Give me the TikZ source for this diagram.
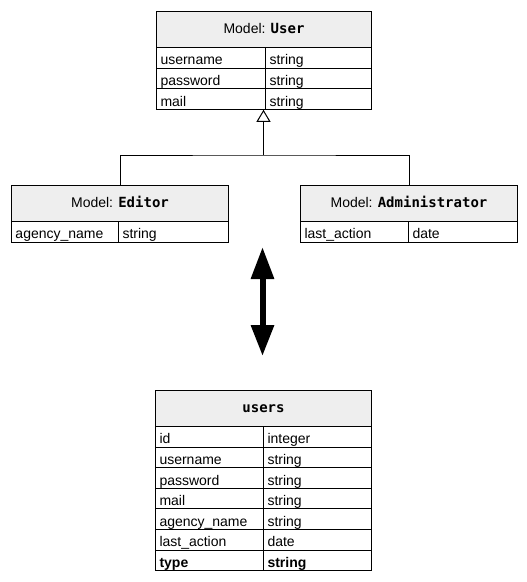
\documentclass[tikz,border=0pt]{standalone}
\usepackage{fontspec}
\setmainfont{Liberation Sans}
\newfontfamily\codefont{DejaVu Sans Mono}
\usetikzlibrary{arrows.meta}
\definecolor{hdrgray}{HTML}{EEEEEE}
\tikzset{
  hdr/.style={draw, line width=1pt, fill=hdrgray, anchor=north west, inner sep=0pt,
    minimum height=36pt, text height=8.6pt, text depth=0pt, font=\fontsize{14}{16}\selectfont},
  cell/.style={draw, line width=1pt, anchor=north west, inner xsep=4pt, inner ysep=0pt,
    minimum height=20.6pt, text height=17.3pt, text depth=3.3pt, align=left,
    font=\fontsize{14}{16}\selectfont},
  inh/.style={line width=1pt, -{Triangle[open, length=12pt, width=14pt, fill=white]}},
  link/.style={line width=1pt},
  dbl/.style={line width=6pt, {Triangle[length=32pt, width=22pt]}-{Triangle[length=31pt, width=22pt]}}
}
\newcommand{\code}[1]{{\codefont\bfseries #1}}
\begin{document}
\begin{tikzpicture}[x=1pt, y=-1pt]
\useasboundingbox (0,0) rectangle (527,582);

% User
\node[hdr, minimum width=215pt] (uh) at (156,11) {Model: \code{User}};
\node[cell, text width=101pt] (u1l) at (156,47) {username};
\node[cell, text width=98pt] (u1r) at (265,47) {string};
\node[cell, text width=101pt] (u2l) at (156,67.6) {password};
\node[cell, text width=98pt] (u2r) at (265,67.6) {string};
\node[cell, text width=101pt] (u3l) at (156,88.2) {mail};
\node[cell, text width=98pt] (u3r) at (265,88.2) {string};

% Editor
\node[hdr, minimum width=217pt] (eh) at (11,185) {Model: \code{Editor}};
\node[cell, text width=99pt] (e1l) at (11,221) {agency\_name};
\node[cell, text width=102pt] (e1r) at (118,221) {string};

% Administrator
\node[hdr, minimum width=217pt] (ah) at (300,185) {Model: \code{Administrator}};
\node[cell, text width=100pt] (a1l) at (300,221) {last\_action};
\node[cell, text width=101pt] (a1r) at (408,221) {date};

% users table
\node[hdr, minimum width=216pt] (th) at (155,390) {\code{users}};
\node[cell, text width=100pt] (t1l) at (155,426) {id};
\node[cell, text width=100pt] (t1r) at (263,426) {integer};
\node[cell, text width=100pt] (t2l) at (155,446.6) {username};
\node[cell, text width=100pt] (t2r) at (263,446.6) {string};
\node[cell, text width=100pt] (t3l) at (155,467.2) {password};
\node[cell, text width=100pt] (t3r) at (263,467.2) {string};
\node[cell, text width=100pt] (t4l) at (155,487.8) {mail};
\node[cell, text width=100pt] (t4r) at (263,487.8) {string};
\node[cell, text width=100pt] (t5l) at (155,508.4) {agency\_name};
\node[cell, text width=100pt] (t5r) at (263,508.4) {string};
\node[cell, text width=100pt] (t6l) at (155,529) {last\_action};
\node[cell, text width=100pt] (t6r) at (263,529) {date};
\node[cell, text width=100pt] (t7l) at (155,549.6) {\textbf{type}};
\node[cell, text width=100pt] (t7r) at (263,549.6) {\textbf{string}};

% inheritance
\coordinate (j) at (263.5,155);
\draw[link] (eh.north) |- (j) -| (ah.north);
\draw[inh] (j) -- (j |- u3l.south);

% mapping arrow
\coordinate (m1) at (262.5,247);
\coordinate (m2) at (262.5,356);
\draw[dbl] (m1) -- (m2);
\end{tikzpicture}
\end{document}
